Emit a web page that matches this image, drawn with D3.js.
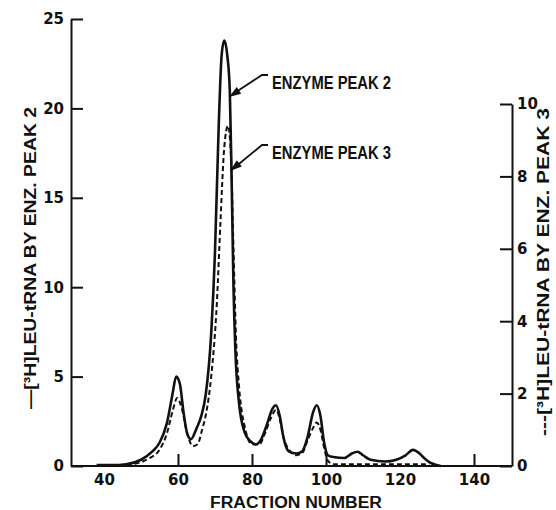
<!DOCTYPE html>
<html>
<head>
<meta charset="utf-8">
<script src="https://cdnjs.cloudflare.com/ajax/libs/d3/7.8.5/d3.min.js"></script>
<style>
  body { margin: 0; background: #fff; }
  text { font-family: "Liberation Sans", Arial, sans-serif; font-weight: bold; fill: #111; }
  .axis path, .axis line { stroke: #111; stroke-width: 2; }
  .axis text { font-family: "DejaVu Sans", sans-serif; font-size: 15px; }
</style>
</head>
<body>
<div id="chart"></div>
<script>
// solid curve: enzyme peak 2 (left axis)
var peak2Fraction = [38, 42, 46, 50, 53, 55, 57, 58.5, 59.5, 60.5, 61.5, 62.5, 63.5, 65, 66.3, 67.5, 69, 70, 71, 71.8, 72.5, 73.3, 74, 74.5, 75, 75.5, 76.5, 78, 79.5, 81, 82.5, 84, 85.5, 86.5, 87.5, 88.5, 90, 92, 93.5, 95, 96.5, 97.5, 98.5, 99.5, 100.5, 102, 105, 107, 108.5, 110, 112, 116, 119, 121.5, 123.5, 125, 126.5, 128, 130, 131];
var peak2Count = [0.05, 0.05, 0.1, 0.35, 0.8, 1.3, 2.4, 4.0, 5.0, 4.6, 3.0, 1.8, 1.5, 2.1, 2.8, 4.0, 7.5, 12, 19, 23, 23.8, 23, 21, 16, 10, 6.5, 3.5, 1.9, 1.4, 1.2, 1.5, 2.3, 3.2, 3.4, 2.8, 1.6, 0.8, 0.7, 0.8, 1.6, 3.0, 3.4, 2.8, 1.3, 0.6, 0.5, 0.45, 0.7, 0.8, 0.6, 0.35, 0.25, 0.35, 0.6, 0.9, 0.75, 0.45, 0.2, 0.05, 0];

// dashed curve: enzyme peak 3 (right axis)
var peak3Fraction = [44, 48, 52, 55, 57, 58.5, 59.8, 61, 62.5, 64, 65.3, 66.5, 67.5, 69, 70.5, 71.5, 72.5, 73.5, 74.3, 75, 75.7, 76.5, 78, 80, 82, 83.5, 85, 86.5, 87.5, 88.5, 90, 92, 93.5, 95, 96.5, 97.5, 98.5, 99.5, 100.5, 102, 105, 110, 120, 127, 128];
var peak3Count = [0, 0.05, 0.2, 0.45, 0.9, 1.5, 1.88, 1.6, 0.9, 0.55, 0.6, 1.0, 1.4, 2.5, 4.5, 6.8, 8.8, 9.4, 8.6, 6, 3.5, 2.2, 1.1, 0.6, 0.6, 0.9, 1.3, 1.55, 1.3, 0.8, 0.45, 0.3, 0.35, 0.7, 1.05, 1.2, 1.0, 0.5, 0.15, 0.05, 0.05, 0.05, 0.05, 0.05, 0];

var xTicks = [40, 60, 80, 100, 120, 140];
var leftTicks = [0, 5, 10, 15, 20, 25];
var rightTicks = [0, 2, 4, 6, 8, 10];

var w = 556, h = 510;
var left = 71, right = 512, base = 466;

var svg = d3.select("#chart").append("svg")
  .attr("width", w)
  .attr("height", h);

var x = d3.scaleLinear().domain([40, 140]).range([104, 474]);
var yL = d3.scaleLinear().domain([0, 25]).range([base, 19]);
var yR = d3.scaleLinear().domain([0, 10]).range([base, 104]);

// x axis
var xAxis = svg.append("g")
  .attr("class", "axis")
  .attr("transform", "translate(0," + base + ")")
  .call(d3.axisBottom(x).tickValues(xTicks).tickSize(-12).tickSizeOuter(0).tickPadding(8));
xAxis.select(".domain").remove();
xAxis.selectAll(".tick line")
  .style("opacity", function(d){ return (d == 40 || d == 120) ? 0 : 1 });
svg.append("line")
  .attr("x1", left).attr("x2", right)
  .attr("y1", base).attr("y2", base)
  .attr("stroke", "#111").attr("stroke-width", 2);

// left axis
var lAxis = svg.append("g")
  .attr("class", "axis")
  .attr("transform", "translate(" + left + ",0)")
  .call(d3.axisLeft(yL).tickValues(leftTicks).tickSize(-12).tickSizeOuter(0).tickPadding(7));

// right axis
var rAxis = svg.append("g")
  .attr("class", "axis")
  .attr("transform", "translate(" + right + ",0)")
  .call(d3.axisRight(yR).tickValues(rightTicks).tickSize(-12).tickSizeOuter(0).tickPadding(5));

svg.selectAll(".axis .tick text").style("fill", "#111");

// curves
var solidLine = d3.line()
  .x(function(d){ return x(d[0]) })
  .y(function(d){ return yL(d[1]) })
  .curve(d3.curveMonotoneX);
var dashLine = d3.line()
  .x(function(d){ return x(d[0]) })
  .y(function(d){ return yR(d[1]) })
  .curve(d3.curveMonotoneX);

svg.append("path")
  .datum(d3.zip(peak3Fraction, peak3Count))
  .attr("d", dashLine)
  .attr("fill", "none")
  .attr("stroke", "#111")
  .attr("stroke-width", 2)
  .attr("stroke-dasharray", "5,3");

svg.append("path")
  .datum(d3.zip(peak2Fraction, peak2Count))
  .attr("d", solidLine)
  .attr("fill", "none")
  .attr("stroke", "#111")
  .attr("stroke-width", 2.6);

// axis titles
svg.append("text")
  .attr("x", 296).attr("y", 508)
  .attr("text-anchor", "middle")
  .attr("textLength", 172).attr("lengthAdjust", "spacingAndGlyphs")
  .style("font-size", "16px")
  .text("FRACTION NUMBER");

svg.append("text")
  .attr("transform", "translate(36,258) rotate(-90)")
  .attr("text-anchor", "middle")
  .attr("textLength", 302).attr("lengthAdjust", "spacingAndGlyphs")
  .style("font-size", "17px")
  .text("\u2014[\u00b3H]LEU-tRNA BY ENZ. PEAK 2");

svg.append("text")
  .attr("transform", "translate(549,272) rotate(-90)")
  .attr("text-anchor", "middle")
  .attr("textLength", 328).attr("lengthAdjust", "spacingAndGlyphs")
  .style("font-size", "17px")
  .text("---[\u00b3H]LEU-tRNA BY ENZ. PEAK 3");

// annotations with leader arrows
var notes = [
  {label: "ENZYME PEAK 2", tx: 272, ty: 89, tip: [229, 97]},
  {label: "ENZYME PEAK 3", tx: 272, ty: 159, tip: [230, 171]}
];
notes.forEach(function(n){
  svg.append("text")
    .attr("x", n.tx).attr("y", n.ty)
    .attr("textLength", 119).attr("lengthAdjust", "spacingAndGlyphs")
    .style("font-size", "19px")
    .text(n.label);
  var sx = n.tx - 4, sy = n.ty - 14;
  svg.append("path")
    .attr("d", "M" + sx + "," + sy + " L" + (sx - 6) + "," + sy + " L" + (n.tip[0] + 4) + "," + (n.tip[1] - 3))
    .attr("fill", "none").attr("stroke", "#111").attr("stroke-width", 1.8);
  var ang = Math.atan2(n.tip[1] - sy, n.tip[0] - (sx - 6));
  var len = 12, wid = 4;
  var bx = n.tip[0] - len * Math.cos(ang), by = n.tip[1] - len * Math.sin(ang);
  var px = -Math.sin(ang) * wid, py = Math.cos(ang) * wid;
  svg.append("path")
    .attr("d", "M" + n.tip[0] + "," + n.tip[1] + " L" + (bx + px) + "," + (by + py) + " L" + (bx - px) + "," + (by - py) + "Z")
    .attr("fill", "#111");
});
</script>
</body>
</html>
